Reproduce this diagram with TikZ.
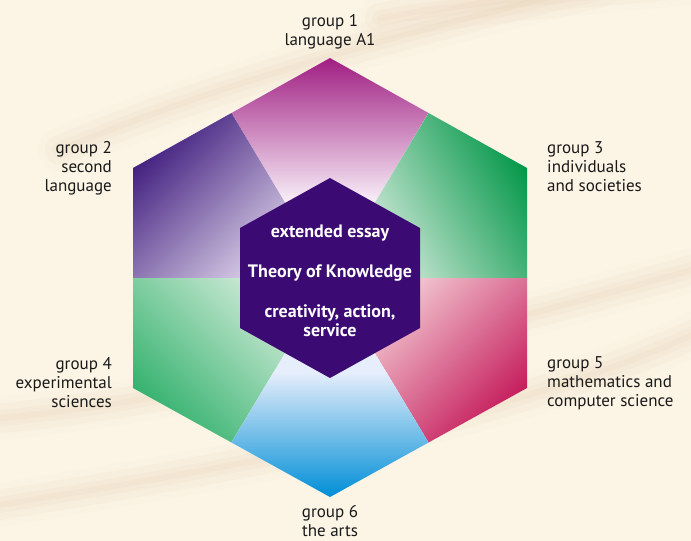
\documentclass[tikz,border=0pt]{standalone}
\usepackage{fontspec}
\setmainfont{PT Sans}
\usetikzlibrary{calc}
\definecolor{bg}{RGB}{252,245,230}
\definecolor{tanband}{RGB}{228,202,172}
\definecolor{innerfill}{RGB}{60,10,115}
\definecolor{labeltext}{RGB}{25,25,25}
\definecolor{gonedark}{RGB}{160,30,130}
\definecolor{gonelight}{RGB}{247,236,247}
\definecolor{gtwodark}{RGB}{55,20,120}
\definecolor{gtwolight}{RGB}{240,232,246}
\definecolor{gthreedark}{RGB}{0,150,70}
\definecolor{gthreelight}{RGB}{238,245,238}
\definecolor{gfourdark}{RGB}{45,175,105}
\definecolor{gfourlight}{RGB}{232,244,232}
\definecolor{gfivedark}{RGB}{195,20,85}
\definecolor{gfivelight}{RGB}{251,234,234}
\definecolor{gsixdark}{RGB}{0,142,215}
\definecolor{gsixlight}{RGB}{230,238,251}
\tikzset{
  lbl/.style={font=\fontsize{17}{19}\selectfont, text=labeltext, inner sep=0pt},
  core/.style={font=\bfseries\fontsize{18}{19}\selectfont, text=white, inner sep=0pt, align=center},
}
\newcommand\softband[1]{%
  \foreach \w/\o in {44/0.06,30/0.08,16/0.10,6/0.12}{%
    \draw[tanband, line width=\w, opacity=\o, line cap=round] #1;}}
\begin{document}
\begin{tikzpicture}[x=1pt,y=-1pt]
\useasboundingbox (0,0) rectangle (691,541);
\fill[bg] (0,0) rectangle (691,541);
% background swooshes
\begin{scope}
\clip (0,0) rectangle (691,541);
\softband{(60,150) .. controls (180,100) and (330,50) .. (600,-15)}
\softband{(380,18) .. controls (480,0) and (600,-8) .. (720,-20)}
\softband{(-20,420) .. controls (200,402) and (480,330) .. (720,262)}
\softband{(-20,508) .. controls (220,470) and (520,420) .. (720,322)}
\end{scope}
% geometry
\coordinate (C) at (330,278);
\coordinate (T) at (330,58);
\coordinate (UR) at (527,168);
\coordinate (LR) at (527,388);
\coordinate (B) at (330,497);
\coordinate (LL) at (133,388);
\coordinate (UL) at (133,168);
\coordinate (mTR) at ($(T)!0.5!(UR)$);
\coordinate (mR) at ($(UR)!0.5!(LR)$);
\coordinate (mBR) at ($(LR)!0.5!(B)$);
\coordinate (mBL) at ($(B)!0.5!(LL)$);
\coordinate (mL) at ($(LL)!0.5!(UL)$);
\coordinate (mTL) at ($(UL)!0.5!(T)$);
% group 1 sector
\begin{scope}
\clip (C) -- (mTL) -- (T) -- (mTR) -- cycle;
\fill[gonelight] (C) -- (mTL) -- (T) -- (mTR) -- cycle;
\shade[top color=gonedark, bottom color=gonelight] (220,58) rectangle (440,200);
\end{scope}
% group 2 sector
\begin{scope}
\clip (C) -- (mL) -- (UL) -- (mTL) -- cycle;
\fill[gtwolight] (C) -- (mL) -- (UL) -- (mTL) -- cycle;
\shade[top color=gtwodark, bottom color=gtwolight, shading angle=45] (120,105) rectangle (320,300);
\end{scope}
% group 3 sector
\begin{scope}
\clip (C) -- (mTR) -- (UR) -- (mR) -- cycle;
\fill[gthreelight] (C) -- (mTR) -- (UR) -- (mR) -- cycle;
\shade[top color=gthreedark, bottom color=gthreelight, shading angle=-60] (340,105) rectangle (535,300);
\end{scope}
% group 4 sector
\begin{scope}
\clip (C) -- (mBL) -- (LL) -- (mL) -- cycle;
\fill[gfourlight] (C) -- (mBL) -- (LL) -- (mL) -- cycle;
\shade[top color=gfourdark, bottom color=gfourlight, shading angle=135] (125,258) rectangle (330,450);
\end{scope}
% group 5 sector
\begin{scope}
\clip (C) -- (mR) -- (LR) -- (mBR) -- cycle;
\fill[gfivelight] (C) -- (mR) -- (LR) -- (mBR) -- cycle;
\shade[top color=gfivedark, bottom color=gfivelight, shading angle=-135] (330,258) rectangle (535,450);
\end{scope}
% group 6 sector
\begin{scope}
\clip (C) -- (mBR) -- (B) -- (mBL) -- cycle;
\fill[gsixlight] (C) -- (mBR) -- (B) -- (mBL) -- cycle;
\shade[top color=gsixlight, bottom color=gsixdark] (220,372) rectangle (440,497);
\end{scope}
% inner hexagon
\fill[innerfill] (330,178) -- (420,228) -- (420,328) -- (330,378) -- (240,328) -- (240,228) -- cycle;
\node[core, anchor=base] (ee) at (330,237) {extended essay};
\node[core, anchor=base] (tok) at (330,277) {Theory of Knowledge};
\node[core, anchor=north] (cas) at (330,304) {creativity, action,\\service};
% labels
\node[lbl, anchor=north, align=center] (g1) at (330,14) {group 1\\language A1};
\node[lbl, anchor=north east, align=right] (g2) at (112,141) {group 2\\second\\language};
\node[lbl, anchor=north west, align=left] (g3) at (547,141) {group 3\\individuals\\and societies};
\node[lbl, anchor=north east, align=right] (g4) at (112,357) {group 4\\experimental\\sciences};
\node[lbl, anchor=north west, align=left] (g5) at (547,356) {group 5\\mathematics and\\computer science};
\node[lbl, anchor=north, align=center] (g6) at (330,505) {group 6\\the arts};
\end{tikzpicture}
\end{document}
